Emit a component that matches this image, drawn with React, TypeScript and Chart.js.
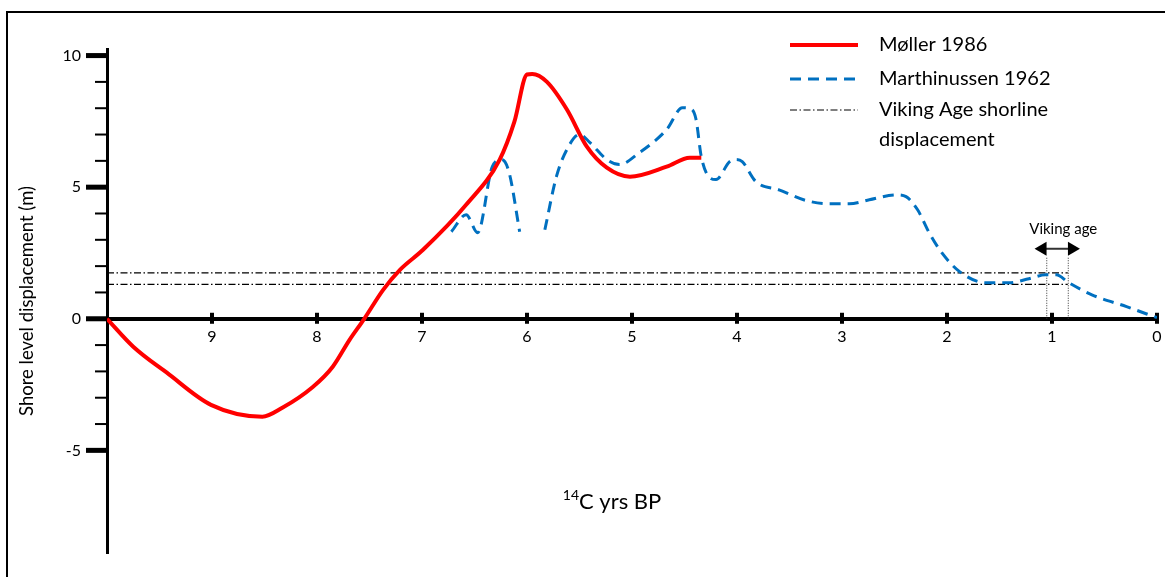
import React, { useEffect, useRef } from 'react';
import { Chart, registerables } from 'chart.js';

Chart.register(...registerables);

// ---- Data ----
const seriesLabels = ['Møller 1986', 'Marthinussen 1962', 'Viking Age shorline displacement'];

const mollerX = [10, 9.75, 9.43, 9.01, 8.52, 8.33, 8.04, 7.85, 7.69, 7.55, 7.37, 7.21, 6.99, 6.58, 6.26, 6.12, 6.0, 5.95, 5.81, 5.62, 5.43, 5.24, 5.02, 4.67, 4.45, 4.34];
const mollerY = [0, -1.06, -2.05, -3.27, -3.72, -3.38, -2.59, -1.82, -0.8, 0, 1.1, 1.86, 2.62, 4.33, 6.05, 7.49, 9.28, 9.3, 9.0, 7.95, 6.54, 5.74, 5.4, 5.78, 6.12, 6.12];

const marthX = [6.72, 6.58, 6.47, 6.33, 6.24, 6.17, 6.07, 5.95, 5.83, 5.72, 5.62, 5.5, 5.4, 5.24, 5.12, 4.93, 4.67, 4.52, 4.43, 4.39, 4.34, 4.26, 4.2, 4.07, 4.01, 3.95, 3.82, 3.6, 3.34, 3.12, 2.93, 2.74, 2.48, 2.39, 2.28, 2.17, 2.05, 1.88, 1.63, 1.41, 1.22, 1.06, 0.96, 0.84, 0.62, 0.29, 0];
const marthY = [3.31, 3.95, 3.27, 5.78, 6.05, 5.55, 3.31, null, 3.38, 5.4, 6.43, 7.0, 6.69, 6.05, 5.86, 6.31, 7.19, 8.02, 7.95, 7.57, 6.16, 5.36, 5.29, 5.97, 6.05, 5.97, 5.21, 4.9, 4.49, 4.37, 4.37, 4.52, 4.71, 4.64, 4.14, 3.27, 2.51, 1.79, 1.37, 1.37, 1.52, 1.67, 1.67, 1.37, 0.91, 0.46, 0.04];

const vikingShoreX = [10, 0.85];
const vikingShoreUpperY = [1.74, 1.74];
const vikingShoreLowerY = [1.31, 1.31];

const vikingAgeBoundsX = [1.05, 0.845];
const vikingAgeBoundsY = [0, 2.32];
const vikingArrowX = [1.09, 0.81];
const vikingArrowY = [2.66, 2.66];
const vikingAgeLabel = 'Viking age';

const xAxisTitleSup = '14';
const xAxisTitleMain = 'C yrs BP';
const yAxisTitle = 'Shore level displacement (m)';
const yMajorTicks = [-5, 0, 5, 10];
const yMinorTicks = [-4, -3, -2, -1, 1, 2, 3, 4, 6, 7, 8, 9];
const xTickValues = [0, 1, 2, 3, 4, 5, 6, 7, 8, 9];

const FONT = 'Lato';

function pts(xs: number[], ys: (number | null)[]) {
  return xs.map((x, i) => ({ x, y: ys[i] }));
}

function zeroPadding(s: any) {
  s.paddingTop = 0;
  s.paddingBottom = 0;
  s.paddingLeft = 0;
  s.paddingRight = 0;
}

const decorPlugin = {
  id: 'decor',
  beforeDatasetsDraw(chart: any) {
    const ctx = chart.ctx;
    const xs = chart.scales.x;
    const ys = chart.scales.y;
    const y0 = ys.getPixelForValue(0);
    const xL = xs.getPixelForValue(10);
    ctx.save();
    ctx.fillStyle = '#000';
    yMajorTicks.forEach((v) => {
      const py = ys.getPixelForValue(v);
      ctx.fillRect(xL - 21, py - 2.5, 21, 5);
    });
    yMinorTicks.forEach((v) => {
      const py = ys.getPixelForValue(v);
      ctx.fillRect(xL - 12, py - 1, 12, 2);
    });
    xTickValues.forEach((v) => {
      const px = xs.getPixelForValue(v);
      ctx.fillRect(px - 2, y0 - 6, 4, 11);
    });
    ctx.restore();
  },
  afterDraw(chart: any) {
    const ctx = chart.ctx;
    const xs = chart.scales.x;
    const ys = chart.scales.y;
    const ds = chart.data.datasets;
    ctx.save();
    const sx0 = 790, sx1 = 858, tx = 879;
    const rows = [45, 79, 110];
    ctx.lineCap = 'butt';
    [0, 1, 2].forEach((i) => {
      const d = ds[i];
      ctx.beginPath();
      ctx.strokeStyle = d.borderColor;
      ctx.lineWidth = d.borderWidth;
      ctx.setLineDash(d.borderDash || []);
      ctx.moveTo(sx0, rows[i]);
      ctx.lineTo(sx1, rows[i]);
      ctx.stroke();
    });
    ctx.setLineDash([]);
    ctx.fillStyle = '#000';
    ctx.font = `20px ${FONT}`;
    ctx.textBaseline = 'middle';
    ctx.textAlign = 'left';
    ctx.fillText(seriesLabels[0], tx, 45);
    ctx.fillText(seriesLabels[1], tx, 79);
    ctx.fillText('Viking Age shorline', tx, 110);
    ctx.fillText('displacement', tx, 140);

    ctx.textBaseline = 'alphabetic';
    ctx.font = `14px ${FONT}`;
    const wSup = ctx.measureText(xAxisTitleSup).width;
    ctx.font = `22px ${FONT}`;
    const wMain = ctx.measureText(xAxisTitleMain).width;
    const cx = 612;
    const start = cx - (wSup + wMain) / 2;
    ctx.font = `14px ${FONT}`;
    ctx.fillText(xAxisTitleSup, start, 500);
    ctx.font = `22px ${FONT}`;
    ctx.fillText(xAxisTitleMain, start + wSup, 509);

    ctx.font = `15px ${FONT}`;
    ctx.textAlign = 'center';
    ctx.textBaseline = 'middle';
    const vx = (xs.getPixelForValue(vikingArrowX[0]) + xs.getPixelForValue(vikingArrowX[1])) / 2 + 6;
    ctx.fillText(vikingAgeLabel, vx, ys.getPixelForValue(vikingArrowY[0]) - 20);
    ctx.restore();
  },
};

export default function App() {
  const ref = useRef<HTMLCanvasElement | null>(null);
  useEffect(() => {
    if (!ref.current) return;
    const dashDot = [7, 2.5, 1.5, 2.5];
    const chart = new Chart(ref.current, {
      type: 'line',
      data: {
        datasets: [
          {
            label: seriesLabels[0],
            data: pts(mollerX, mollerY),
            borderColor: '#FF0000',
            borderWidth: 4,
            pointRadius: 0,
            cubicInterpolationMode: 'monotone',
            fill: false,
          },
          {
            label: seriesLabels[1],
            data: pts(marthX, marthY),
            borderColor: '#0070C0',
            borderWidth: 3,
            borderDash: [11, 7],
            pointRadius: 0,
            cubicInterpolationMode: 'monotone',
            spanGaps: false,
            fill: false,
          },
          {
            label: seriesLabels[2],
            data: pts(vikingShoreX, vikingShoreUpperY),
            borderColor: '#000',
            borderWidth: 1.2,
            borderDash: dashDot,
            pointRadius: 0,
            tension: 0,
          },
          {
            label: seriesLabels[2] + ' (lower)',
            data: pts(vikingShoreX, vikingShoreLowerY),
            borderColor: '#000',
            borderWidth: 1.2,
            borderDash: dashDot,
            pointRadius: 0,
            tension: 0,
          },
          {
            label: 'Viking age start',
            data: pts([vikingAgeBoundsX[0], vikingAgeBoundsX[0]], vikingAgeBoundsY),
            borderColor: '#333',
            borderWidth: 1,
            borderDash: [1, 1.5],
            pointRadius: 0,
            tension: 0,
          },
          {
            label: 'Viking age end',
            data: pts([vikingAgeBoundsX[1], vikingAgeBoundsX[1]], vikingAgeBoundsY),
            borderColor: '#333',
            borderWidth: 1,
            borderDash: [1, 1.5],
            pointRadius: 0,
            tension: 0,
          },
          {
            label: 'Viking age arrow',
            data: pts(vikingArrowX, vikingArrowY),
            borderColor: '#333',
            borderWidth: 2,
            pointStyle: 'triangle',
            pointRadius: 8,
            pointRotation: (c: any) => (c.dataIndex === 0 ? -90 : 90),
            pointBackgroundColor: '#000',
            pointBorderColor: '#000',
            pointBorderWidth: 0,
            tension: 0,
          },
        ],
      },
      options: {
        animation: false,
        responsive: false,
        maintainAspectRatio: false,
        layout: { padding: { left: 0, right: 7, top: 49, bottom: 24 } },
        plugins: { legend: { display: false }, tooltip: { enabled: false } },
        scales: {
          x: {
            type: 'linear',
            reverse: true,
            min: 0,
            max: 10,
            position: { y: 0 } as any,
            grid: { display: false, drawTicks: false },
            border: { display: true, width: 4, color: '#000' },
            ticks: {
              stepSize: 1,
              autoSkip: false,
              maxRotation: 0,
              padding: 8,
              color: '#000',
              font: { family: FONT, size: 16 },
              callback: (v: any) => (v === 10 ? '' : String(v)),
            },
            afterFit: (s: any) => {
              zeroPadding(s);
            },
          },
          y: {
            type: 'linear',
            min: -8.9,
            max: 10.25,
            position: 'left',
            grid: { display: false, drawTicks: false },
            border: { display: true, width: 3, color: '#000' },
            ticks: {
              stepSize: 1,
              includeBounds: false,
              autoSkip: false,
              padding: 26,
              color: '#000',
              font: { family: FONT, size: 16 },
              callback: (v: any) => (Number.isInteger(v) && v % 5 === 0 ? String(v) : ''),
            },
            title: {
              display: true,
              text: yAxisTitle,
              color: '#000',
              font: { family: FONT, size: 18.5 },
              padding: { top: 16, bottom: 0 },
            },
            afterFit: (s: any) => {
              s.width = 107;
              zeroPadding(s);
            },
          },
        },
      } as any,
      plugins: [decorPlugin],
    });
    return () => chart.destroy();
  }, []);

  return (
    <div style={{ position: 'fixed', left: 0, top: 0, width: 1165, height: 577, background: '#fff' }}>
      <div
        style={{
          position: 'absolute',
          left: 6,
          top: 11,
          right: 0,
          bottom: 0,
          borderLeft: '2px solid #000',
          borderTop: '2px solid #000',
        }}
      />
      <canvas ref={ref} width={1165} height={577} style={{ position: 'absolute', left: 0, top: 0 }} />
    </div>
  );
}
